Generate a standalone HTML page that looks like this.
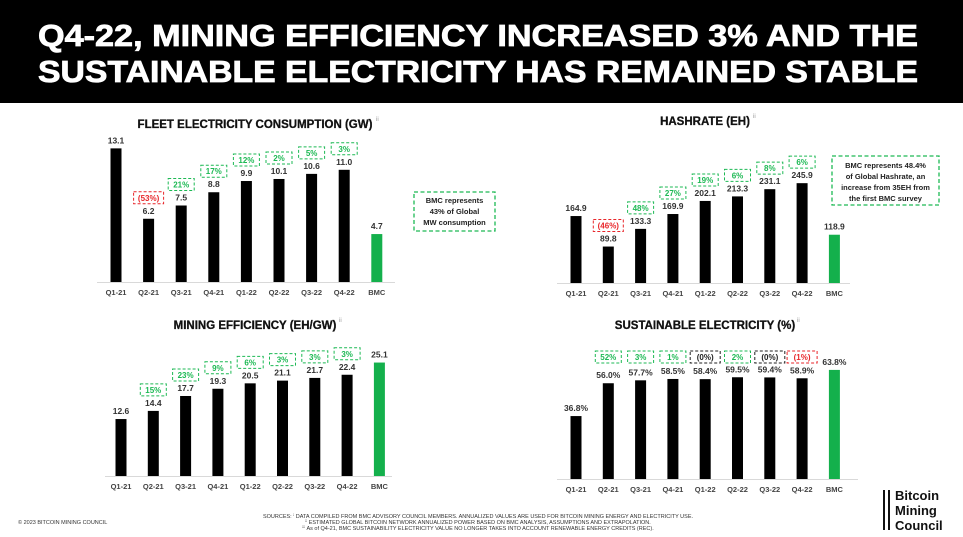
<!DOCTYPE html>
<html><head><meta charset="utf-8"><style>
body{margin:0;width:963px;height:537px;overflow:hidden;background:#fff;font-family:"Liberation Sans",sans-serif}
svg{display:block}
</style></head><body>
<svg id="s" width="963" height="537" viewBox="0 0 963 537" xmlns="http://www.w3.org/2000/svg" font-family="Liberation Sans, sans-serif">
<rect x="0" y="0" width="963" height="103" fill="#000"/>
<text x="38" y="46" fill="#fff" stroke="#fff" stroke-width="0.8" font-size="31" font-weight="bold" textLength="880" lengthAdjust="spacingAndGlyphs">Q4-22, MINING EFFICIENCY INCREASED 3% AND THE</text>
<text x="38" y="82" fill="#fff" stroke="#fff" stroke-width="0.8" font-size="31" font-weight="bold" textLength="880" lengthAdjust="spacingAndGlyphs">SUSTAINABLE ELECTRICITY HAS REMAINED STABLE</text>

<g>
<rect x="414" y="192" width="81" height="39" fill="#fff" stroke="#1db954" stroke-width="1.3" stroke-dasharray="4,2.5"/>
<text x="454.5" y="203" font-size="7.5" font-weight="bold" text-anchor="middle" fill="#222">BMC represents</text>
<text x="454.5" y="214" font-size="7.5" font-weight="bold" text-anchor="middle" fill="#222">43% of Global</text>
<text x="454.5" y="225" font-size="7.5" font-weight="bold" text-anchor="middle" fill="#222">MW consumption</text>
</g>
<g>
<rect x="832" y="156" width="107" height="49" fill="#fff" stroke="#1db954" stroke-width="1.3" stroke-dasharray="4,2.5"/>
<text x="885.5" y="168" font-size="7.5" font-weight="bold" text-anchor="middle" fill="#222">BMC represents 48.4%</text>
<text x="885.5" y="179" font-size="7.5" font-weight="bold" text-anchor="middle" fill="#222">of Global Hashrate, an</text>
<text x="885.5" y="190" font-size="7.5" font-weight="bold" text-anchor="middle" fill="#222">increase from 35EH from</text>
<text x="885.5" y="201" font-size="7.5" font-weight="bold" text-anchor="middle" fill="#222">the first BMC survey</text>
</g>

<text x="18" y="524" font-size="5.5" fill="#333">© 2023 BITCOIN MINING COUNCIL</text>
<g font-size="5.5" fill="#333" text-anchor="middle">
<text x="478" y="518">SOURCES: ⁱ DATA COMPILED FROM BMC ADVISORY COUNCIL MEMBERS. ANNUALIZED VALUES ARE USED FOR BITCOIN MINING ENERGY AND ELECTRICITY USE.</text>
<text x="478" y="524">ⁱⁱ ESTIMATED GLOBAL BITCOIN NETWORK ANNUALIZED POWER BASED ON BMC ANALYSIS, ASSUMPTIONS AND EXTRAPOLATION.</text>
<text x="478" y="530">ⁱⁱⁱ As of Q4-21, BMC SUSTAINABILITY ELECTRICITY VALUE NO LONGER TAKES INTO ACCOUNT RENEWABLE ENERGY CREDITS (REC).</text>
</g>
<g>
<rect x="883" y="490" width="2" height="40" fill="#111"/>
<rect x="888" y="490" width="2" height="40" fill="#111"/>
<text x="895" y="500" font-size="13" font-weight="bold" fill="#111">Bitcoin</text>
<text x="895" y="515" font-size="13" font-weight="bold" fill="#111">Mining</text>
<text x="895" y="530" font-size="13" font-weight="bold" fill="#111">Council</text>
</g>
</svg>
<script>
const categories = ['Q1-21','Q2-21','Q3-21','Q4-21','Q1-22','Q2-22','Q3-22','Q4-22','BMC'];
const fleetValues = [13.1,6.2,7.5,8.8,9.9,10.1,10.6,11.0,4.7];
const fleetLabels = ['13.1','6.2','7.5','8.8','9.9','10.1','10.6','11.0','4.7'];
const fleetChanges = ['','(53%)','21%','17%','12%','2%','5%','3%',''];
const hashValues = [164.9,89.8,133.3,169.9,202.1,213.3,231.1,245.9,118.9];
const hashLabels = ['164.9','89.8','133.3','169.9','202.1','213.3','231.1','245.9','118.9'];
const hashChanges = ['','(46%)','48%','27%','19%','6%','8%','6%',''];
const effValues = [12.6,14.4,17.7,19.3,20.5,21.1,21.7,22.4,25.1];
const effLabels = ['12.6','14.4','17.7','19.3','20.5','21.1','21.7','22.4','25.1'];
const effChanges = ['','15%','23%','9%','6%','3%','3%','3%',''];
const susValues = [36.8,56.0,57.7,58.5,58.4,59.5,59.4,58.9,63.8];
const susLabels = ['36.8%','56.0%','57.7%','58.5%','58.4%','59.5%','59.4%','58.9%','63.8%'];
const susChanges = ['','52%','3%','1%','(0%)','2%','(0%)','(1%)',''];
const changeColors = {'(53%)':'#e8262a','(46%)':'#e8262a','(1%)':'#e8262a','(0%)':'#222'};

const NS='http://www.w3.org/2000/svg';
const svg=document.getElementById('s');
function el(tag,attrs,parent){const e=document.createElementNS(NS,tag);for(const k in attrs)e.setAttribute(k,attrs[k]);(parent||svg).appendChild(e);return e;}

function drawChart(o){
  const g=el('g',{});
  
  
  const t=el('text',{x:o.tx,y:o.ty,'font-size':11.5,'font-weight':'bold','text-anchor':'middle',fill:'#111',stroke:'#111','stroke-width':0.3},g);
  t.textContent=o.title;
  
  
  const sup=el('text',{x:o.tx+o.supOff,y:o.ty-7,'font-size':6,fill:'#999'},g);
  sup.textContent='ii';
  const ax=el('line',{x1:o.ax0,x2:o.ax1,y1:o.base+0.5,y2:o.base+0.5,stroke:'#d9d9d9','stroke-width':1},g);
  
  
  const xs=i=>o.x0+i*o.step;
  const ys=v=>o.base-v*o.scale;
  o.values.forEach((v,i)=>{
    const x=xs(i), top=ys(v);
    const b=el('rect',{x:x-5.5,y:top,width:11,height:o.base-top,fill:i===8?'#14b04c':'#000'},g);
    
    
    const vl=el('text',{x:x,y:top-5,'font-size':8.5,'font-weight':'bold','text-anchor':'middle',fill:'#333'},g);
    vl.textContent=o.labels[i];
    
    
    const cl=el('text',{x:x,y:o.base+13,'font-size':7.5,'font-weight':'bold','text-anchor':'middle',fill:'#444'},g);
    cl.textContent=categories[i];
    
    
    const ch=o.changes[i];
    if(ch){
      const col=changeColors[ch]||'#1db954';
      const by=o.boxY!==undefined?o.boxY(i,top):top-27;
      const w=ch.length>3?30:26;
      const bg=el('g',{},g);
      
      
      el('rect',{x:x-w/2,y:by,width:w,height:12,fill:'#fff',stroke:col,'stroke-width':1,'stroke-dasharray':'3,2'},bg);
      const ct=el('text',{x:x,y:by+9,'font-size':8,'font-weight':'bold','text-anchor':'middle',fill:col},bg);
      ct.textContent=ch;
    }
  });
}
drawChart({name:'fleet-chart',title:'FLEET ELECTRICITY CONSUMPTION (GW)',tx:255,ty:128,supOff:121,
  values:fleetValues,labels:fleetLabels,changes:fleetChanges,x0:116,step:32.6,base:282,scale:10.2,ax0:97,ax1:395});
drawChart({name:'hashrate-chart',title:'HASHRATE (EH)',tx:705,ty:125,supOff:48,
  values:hashValues,labels:hashLabels,changes:hashChanges,x0:576,step:32.3,base:283,scale:0.406,ax0:557,ax1:850});
drawChart({name:'efficiency-chart',title:'MINING EFFICIENCY (EH/GW)',tx:255,ty:329,supOff:84,
  values:effValues,labels:effLabels,changes:effChanges,x0:121,step:32.3,base:476,scale:4.52,ax0:105,ax1:392});
drawChart({name:'sustainable-chart',title:'SUSTAINABLE ELECTRICITY (%)',tx:705,ty:329,supOff:92,
  values:susValues,labels:susLabels,changes:susChanges,x0:576,step:32.3,base:479,scale:1.71,ax0:557,ax1:858,
  boxY:(i,top)=>351});
</script>
</body></html>
